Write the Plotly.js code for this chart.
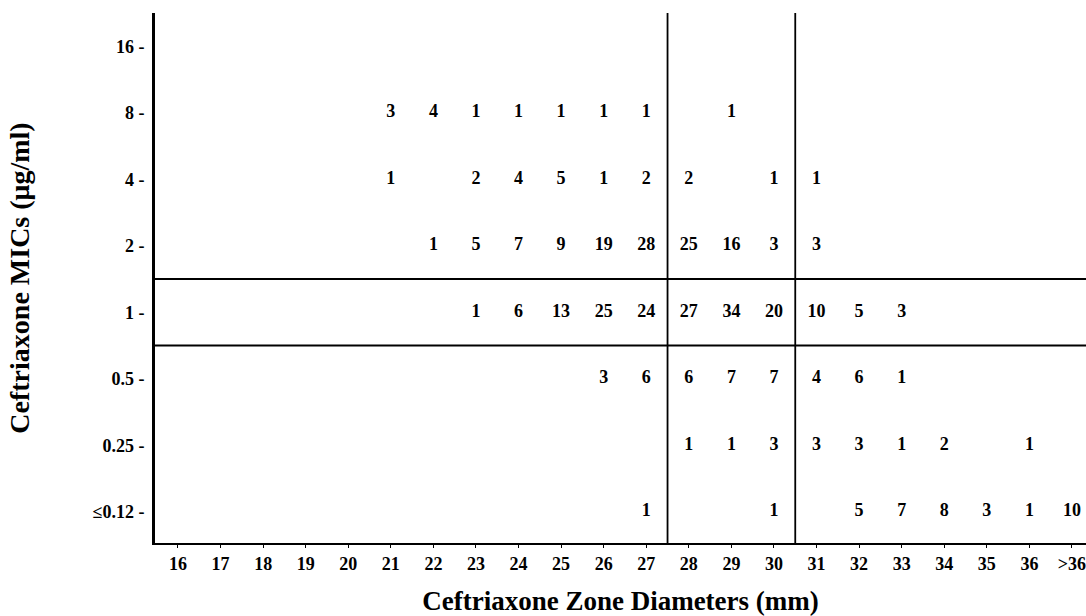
<!DOCTYPE html>
<html><head><meta charset="utf-8">
<script src="https://cdn.plot.ly/plotly-3.0.1.min.js"></script>
<style>html,body{margin:0;padding:0;background:#fff}#chart{width:1086px;height:616px}</style>
</head><body><div id="chart"></div>
<script>
const zoneLabels = ["16","17","18","19","20","21","22","23","24","25","26","27","28","29","30","31","32","33","34","35","36",">36"];
const micLabels = ["≤0.12","0.25","0.5","1","2","4","8","16"];
// counts per MIC row, one entry per zone diameter (null = empty)
const row16   = [null,null,null,null,null,null,null,null,null,null,null,null,null,null,null,null,null,null,null,null,null,null];
const row8    = [null,null,null,null,null,3,4,1,1,1,1,1,null,1,null,null,null,null,null,null,null,null];
const row4    = [null,null,null,null,null,1,null,2,4,5,1,2,2,null,1,1,null,null,null,null,null,null];
const row2    = [null,null,null,null,null,null,1,5,7,9,19,28,25,16,3,3,null,null,null,null,null,null];
const row1    = [null,null,null,null,null,null,null,1,6,13,25,24,27,34,20,10,5,3,null,null,null,null];
const row05   = [null,null,null,null,null,null,null,null,null,null,3,6,6,7,7,4,6,1,null,null,null,null];
const row025  = [null,null,null,null,null,null,null,null,null,null,null,null,1,1,3,3,3,1,2,null,1,null];
const row012  = [null,null,null,null,null,null,null,null,null,null,null,1,null,null,1,null,5,7,8,3,1,10];
const rows = [row012,row025,row05,row1,row2,row4,row8,row16];
const zoneBreakAfter = ["27","30"];          // vertical lines after these zone diameters
const micBreakPairs = [["0.5","1"],["1","2"]]; // horizontal lines between these MICs

const xs=[], ys=[], ts=[];
rows.forEach((r,yi)=>r.forEach((v,xi)=>{ if(v!==null){ xs.push(xi); ys.push(yi); ts.push(String(v)); } }));

const F = "Liberation Serif, Times New Roman, serif";
const shapes = [];
zoneBreakAfter.forEach(z=>{ const x = zoneLabels.indexOf(z) + 0.5;
  shapes.push({type:'line', xref:'x', yref:'paper', x0:x, x1:x, y0:0, y1:1, line:{color:'#000', width:1.8}}); });
micBreakPairs.forEach(p=>{ const y=(micLabels.indexOf(p[0])+micLabels.indexOf(p[1]))/2;
  shapes.push({type:'line', xref:'paper', yref:'y', x0:0, x1:1, y0:y, y1:y, line:{color:'#000', width:1.8}}); });

Plotly.newPlot('chart', [{
  type:'scatter', mode:'text', x:xs, y:ys, text:ts, cliponaxis:false,
  textfont:{family:F, size:18, color:'#000', weight:'bold'}, hoverinfo:'none', showlegend:false
}], {
  width:1086, height:616,
  margin:{l:155, r:0, t:13, b:73},
  paper_bgcolor:'#fff', plot_bgcolor:'#fff',
  showlegend:false,
  xaxis:{range:[-0.54, 21.33], tickvals:zoneLabels.map((_,i)=>i), ticktext:zoneLabels,
    showgrid:false, zeroline:false, showline:true, linecolor:'#000', linewidth:2,
    ticks:'outside', ticklen:3, tickwidth:1, tickcolor:'#000', ticklabeloverflow:'allow',
    tickfont:{family:F, size:18, color:'#000', weight:'bold'},
    title:{text:'Ceftriaxone Zone Diameters (mm)', font:{family:F, size:27, color:'#000', weight:'bold'}, standoff:22}},
  yaxis:{range:[-0.47, 7.5], tickvals:micLabels.map((_,i)=>i), ticktext:micLabels.map(s=>s+' -'),
    showgrid:false, zeroline:false, showline:true, linecolor:'#000', linewidth:3,
    ticks:'', ticklabelstandoff:4,
    tickfont:{family:F, size:18, color:'#000', weight:'bold'},
    title:{text:'Ceftriaxone MICs (μg/ml)', font:{family:F, size:28, color:'#000', weight:'bold'}, standoff:55}},
  shapes:shapes
}, {staticPlot:true});
</script></body></html>
